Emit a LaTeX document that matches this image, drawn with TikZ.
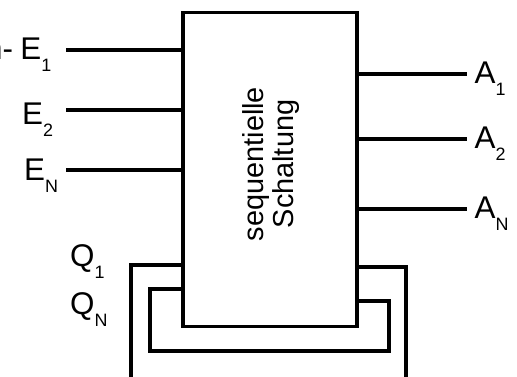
\documentclass[tikz,border=0pt]{standalone}
\usepackage{fontspec}
\setmainfont{Liberation Sans}
\usetikzlibrary{positioning}
\newcommand{\idx}[1]{\raisebox{-12bp}{\fontsize{18}{18}\selectfont #1}}
\tikzset{lbl/.style={inner sep=0pt,font=\fontsize{31.5}{36}\selectfont}}
\begin{document}
\begin{tikzpicture}[x=1bp,y=-1bp,line width=3.2bp]
  \useasboundingbox (0,0) rectangle (517,376);
  % Schaltung
  \node[draw,minimum width=174bp,minimum height=314bp,inner sep=0pt] (sys) at (270,169.5) {};
  \node[rotate=90,align=center,inner sep=0pt,font=\fontsize{29}{30}\selectfont] (txt) at (271,164) {sequentielle\\Schaltung};
  % Eingaenge
  \coordinate (e1) at (66,50);
  \coordinate (e2) at (66,110);
  \coordinate (en) at (66,170);
  \node[lbl,anchor=base west] (le1) at (-16.5,59) {n-\hspace{7.5bp}E\idx{1}};
  \node[lbl,anchor=base west] (le2) at (20.6,124) {E\idx{2}};
  \node[lbl,anchor=base west] (len) at (22.6,180) {E\idx{N}};
  \draw (e1) -- (e1 -| sys.west) (e2) -- (e2 -| sys.west) (en) -- (en -| sys.west);
  % Ausgaenge
  \coordinate (a1) at (467,74);
  \coordinate (a2) at (467,139);
  \coordinate (an) at (467,209);
  \node[lbl,anchor=base west] (la1) at (473,83) {A\idx{1}};
  \node[lbl,anchor=base west] (la2) at (473,148) {A\idx{2}};
  \node[lbl,anchor=base west] (lan) at (473,218) {A\idx{N}};
  \draw (a1 -| sys.east) -- (a1) (a2 -| sys.east) -- (a2) (an -| sys.east) -- (an);
  % Rueckkopplung
  \node[lbl,anchor=base west] (lq1) at (68.5,266) {Q\idx{1}};
  \node[lbl,anchor=base west] (lqn) at (68.5,314) {Q\idx{N}};
  \coordinate (q1) at (131,265);
  \coordinate (qn) at (150,289);
  \coordinate (r1) at (406,267);
  \coordinate (rn) at (389,301);
  \draw (sys.west |- q1) -- (q1) -- (131,382);
  \draw (sys.east |- r1) -- (r1) -- (406,382);
  \draw (sys.west |- qn) -- (qn) -- (150,351) -- (389,351) -- (rn) -- (sys.east |- rn);
\end{tikzpicture}
\end{document}
